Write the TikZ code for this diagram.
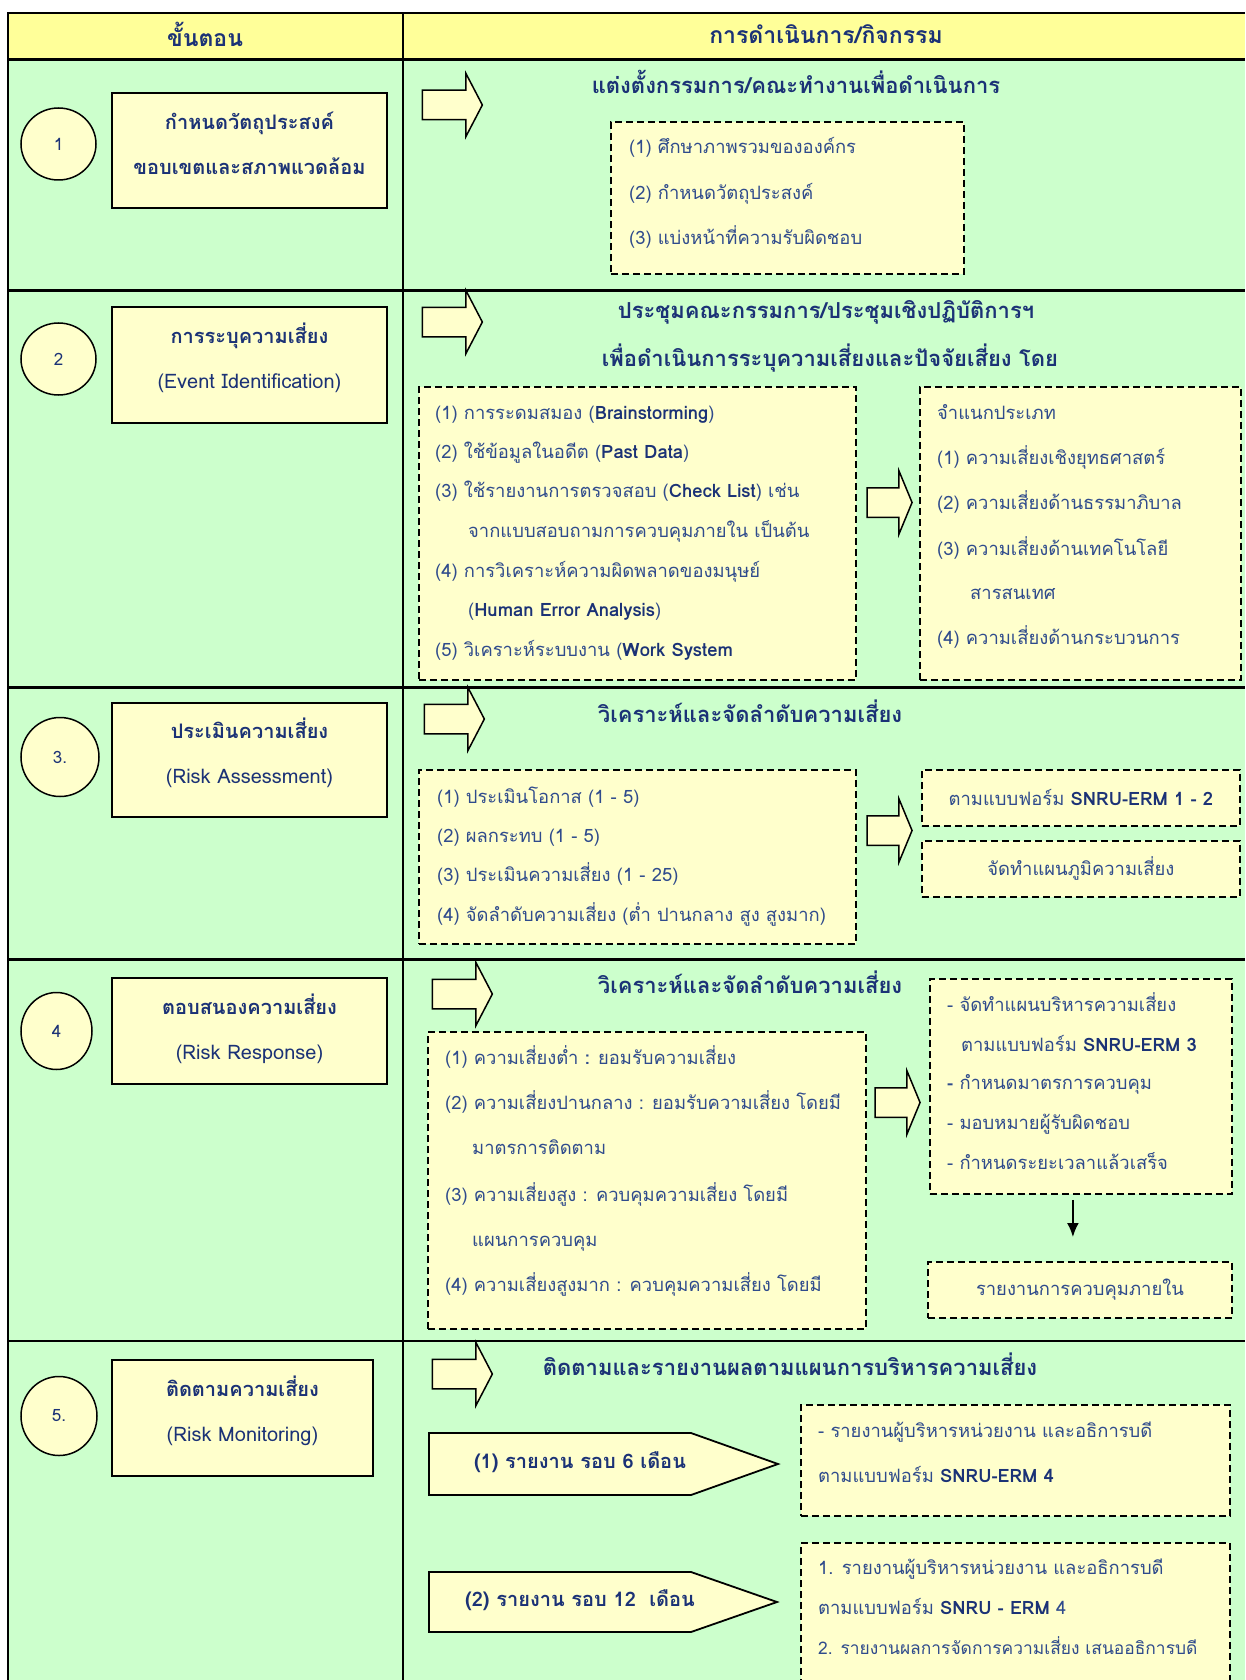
\documentclass[tikz,border=0pt]{standalone}
\usepackage{fontspec}
\newfontfamily\thaifont[Script=Thai]{Loma}
\usetikzlibrary{shapes.arrows,shapes.geometric,arrows.meta}
\definecolor{hdryellow}{RGB}{255,255,153}
\definecolor{rowgreen}{RGB}{204,255,204}
\definecolor{boxyellow}{RGB}{255,255,204}
\definecolor{txtblue}{RGB}{47,75,140}
\definecolor{navy}{RGB}{27,50,118}
\newcommand\en[1]{{\bfseries\color{navy}#1}}
\tikzset{
  tbl/.style={line width=1.2pt},
  rowsep/.style={line width=3pt},
  stepbox/.style={draw, line width=2pt, fill=boxyellow},
  steptext/.style={align=center, font=\thaifont\bfseries\fontsize{20}{45}\selectfont, text=navy},
  stepno/.style={draw, ellipse, line width=1.5pt, fill=boxyellow,
    font=\thaifont\fontsize{17}{20}\selectfont, text=navy},
  dbox/.style={draw, dashed, dash pattern=on 7pt off 4pt, line width=1.8pt,
    fill=boxyellow, anchor=north west},
  bigarrow/.style={single arrow, draw, line width=1.5pt, fill=boxyellow,
    inner xsep=0pt, inner ysep=14pt, minimum height=60pt, minimum width=62pt,
    single arrow head extend=17pt, single arrow tip angle=125},
  midarrow/.style={bigarrow, minimum height=45pt, single arrow tip angle=135},
  tagbox/.style={draw, line width=1.8pt, fill=boxyellow},
  tagtext/.style={text=navy, font=\thaifont\bfseries\fontsize{20}{24}\selectfont},
  item/.style={anchor=west, text height=14pt, text depth=5pt},
  head/.style={font=\thaifont\bfseries\fontsize{22}{26}\selectfont, text=navy},
  colhead/.style={font=\thaifont\bfseries\fontsize{23}{28}\selectfont, text=navy},
}
\begin{document}
\begin{tikzpicture}[x=1pt,y=-1pt,
  every node/.style={font=\thaifont\fontsize{18.4}{23}\selectfont, text=txtblue, inner sep=0pt}]
\useasboundingbox (0,0) rectangle (1245,1680);
\fill[white] (0,0) rectangle (1245,1680);
% table
\fill[rowgreen] (8,13) rectangle (1245,1680);
\fill[hdryellow] (8,13) rectangle (1245,60);
\draw[tbl] (1245,13) -- (8,13) -- (8,1680);
\draw[tbl] (403,13) -- (403,1680);
\draw[rowsep] (8,60) -- (1245,60)
              (8,290) -- (1245,290)
              (8,687) -- (1245,687)
              (8,959) -- (1245,959);
\draw[line width=2pt] (8,1341) -- (1245,1341);
\node[colhead] (hstep) at (205,34) {ขั้นตอน};
\node[colhead] (hact) at (826,34) {การดำเนินการ/กิจกรรม};

% row 1
\node[stepno, minimum width=75pt, minimum height=72pt] (n1) at (58.5,144) {1};
\node[stepbox, minimum width=275pt, minimum height=115pt] (s1) at (249.5,150.5) {};
\node[steptext] (s1t) at ([yshift=7pt]s1.center) {กำหนดวัตถุประสงค์\\ขอบเขตและสภาพแวดล้อม};
\node[bigarrow] (a1) at (448.5,105) {};
\node[head] (t1) at (796,82) {แต่งตั้งกรรมการ/คณะทำงานเพื่อดำเนินการ};
\node[dbox, minimum width=353pt, minimum height=152pt] (d1) at (610,121) {};
\node[item] (i1a) at (629,149) {(1) ศึกษาภาพรวมขององค์กร};
\node[item] (i1b) at (629,195) {(2) กำหนดวัตถุประสงค์};
\node[item] (i1c) at (629,240) {(3) แบ่งหน้าที่ความรับผิดชอบ};

% row 2
\node[stepno, minimum width=75pt, minimum height=72pt] (n2) at (58.5,359) {2};
\node[stepbox, minimum width=275pt, minimum height=116pt] (s2) at (249.5,365) {};
\node[steptext] (s2t) at ([yshift=7pt]s2.center) {การระบุความเสี่ยง\\{\mdseries(Event Identification)}};
\node[bigarrow] (a2) at (448.5,322) {};
\node[head] (t2a) at (826,312) {ประชุมคณะกรรมการ/ประชุมเชิงปฏิบัติการฯ};
\node[head] (t2b) at (830,358) {เพื่อดำเนินการระบุความเสี่ยงและปัจจัยเสี่ยง โดย};
\node[dbox, minimum width=437pt, minimum height=293pt] (d2a) at (418,386) {};
\node[dbox, minimum width=321pt, minimum height=293pt] (d2b) at (919,386) {};
\node[midarrow] (m2) at (886.5,502.5) {};
\node[item] (i2a) at (435,415) {(1) การระดมสมอง (\en{Brainstorming})};
\node[item] (i2b) at (435,454) {(2) ใช้ข้อมูลในอดีต (\en{Past Data})};
\node[item] (i2c) at (435,493) {(3) ใช้รายงานการตรวจสอบ (\en{Check List}) เช่น};
\node[item] (i2d) at (468,533) {จากแบบสอบถามการควบคุมภายใน เป็นต้น};
\node[item] (i2e) at (435,573) {(4) การวิเคราะห์ความผิดพลาดของมนุษย์};
\node[item] (i2f) at (468,612) {(\en{Human Error Analysis})};
\node[item] (i2g) at (435,652) {(5) วิเคราะห์ระบบงาน (\en{Work System}};
\node[item] (k2a) at (937,415) {จำแนกประเภท};
\node[item] (k2b) at (937,460) {(1) ความเสี่ยงเชิงยุทธศาสตร์};
\node[item] (k2c) at (937,505) {(2) ความเสี่ยงด้านธรรมาภิบาล};
\node[item] (k2d) at (937,551) {(3) ความเสี่ยงด้านเทคโนโลยี};
\node[item] (k2e) at (970,595) {สารสนเทศ};
\node[item] (k2f) at (937,640) {(4) ความเสี่ยงด้านกระบวนการ};

% row 3
\node[stepno, minimum width=78pt, minimum height=79pt] (n3) at (60,757) {3.};
\node[stepbox, minimum width=275pt, minimum height=114pt] (s3) at (249.5,760) {};
\node[steptext] (s3t) at ([yshift=7pt]s3.center) {ประเมินความเสี่ยง\\{\mdseries(Risk Assessment)}};
\node[bigarrow] (a3) at (450.5,719) {};
\node[head] (t3) at (750,711) {วิเคราะห์และจัดลำดับความเสี่ยง};
\node[dbox, minimum width=437pt, minimum height=174pt] (d3a) at (418,769) {};
\node[midarrow] (m3) at (886.5,830.5) {};
\node[item] (i3a) at (437,799) {(1) ประเมินโอกาส (1 - 5)};
\node[item] (i3b) at (437,838) {(2) ผลกระทบ (1 - 5)};
\node[item] (i3c) at (437,877) {(3) ประเมินความเสี่ยง (1 - 25)};
\node[item] (i3d) at (437,917) {(4) จัดลำดับความเสี่ยง (ต่ำ ปานกลาง สูง สูงมาก)};
\node[dbox, minimum width=318pt, minimum height=56pt] (d3b) at (921,769) {};
\node (k3a) at (d3b.center) {ตามแบบฟอร์ม \en{SNRU-ERM 1 - 2}};
\node[dbox, minimum width=318pt, minimum height=56pt] (d3c) at (921,840) {};
\node (k3b) at (d3c.center) {จัดทำแผนภูมิความเสี่ยง};

% row 4
\node[stepno, minimum width=71pt, minimum height=77pt] (n4) at (56.5,1031) {4};
\node[stepbox, minimum width=275pt, minimum height=106pt] (s4) at (249.5,1031) {};
\node[steptext] (s4t) at ([yshift=2pt]s4.center) {ตอบสนองความเสี่ยง\\{\mdseries(Risk Response)}};
\node[bigarrow] (a4) at (458.5,994) {};
\node[head] (t4) at (750,982) {วิเคราะห์และจัดลำดับความเสี่ยง};
\node[dbox, minimum width=438pt, minimum height=297pt] (d4a) at (427,1031) {};
\node[midarrow] (m4) at (894.5,1102.5) {};
\node[item] (i4a) at (445,1060) {(1) ความเสี่ยงต่ำ \textbf{:} ยอมรับความเสี่ยง};
\node[item] (i4b) at (445,1105) {(2) ความเสี่ยงปานกลาง : ยอมรับความเสี่ยง โดยมี};
\node[item] (i4c) at (472,1150) {มาตรการติดตาม};
\node[item] (i4d) at (445,1197) {(3) ความเสี่ยงสูง : ควบคุมความเสี่ยง โดยมี};
\node[item] (i4e) at (472,1242) {แผนการควบคุม};
\node[item] (i4f) at (445,1287) {(4) ความเสี่ยงสูงมาก : ควบคุมความเสี่ยง โดยมี};
\node[dbox, minimum width=302pt, minimum height=215pt] (d4b) at (929,978) {};
\node[item] (k4a) at (947,1007) {- จัดทำแผนบริหารความเสี่ยง};
\node[item] (k4b) at (961,1047) {ตามแบบฟอร์ม \en{SNRU-ERM 3}};
\node[item] (k4c) at (947,1085) {\textbf{-} กำหนดมาตรการควบคุม};
\node[item] (k4d) at (947,1125) {- มอบหมายผู้รับผิดชอบ};
\node[item] (k4e) at (947,1165) {- กำหนดระยะเวลาแล้วเสร็จ};
\node[dbox, minimum width=304pt, minimum height=56pt] (d4c) at (927,1261) {};
\node (k4f) at (d4c.center) {รายงานการควบคุมภายใน};
\draw[line width=2pt, -{Latex[length=14pt,width=12pt]}, shorten <=5pt, shorten >=24pt]
  ([xshift=-8pt]d4b.south) -- ([xshift=-7pt]d4c.north);

% row 5
\node[stepno, minimum width=76pt, minimum height=79pt] (n5) at (59,1416) {5.};
\node[stepbox, minimum width=261pt, minimum height=116pt] (s5) at (242.5,1418) {};
\node[steptext] (s5t) at ([yshift=7pt]s5.center) {ติดตามความเสี่ยง\\{\mdseries(Risk Monitoring)}};
\node[bigarrow] (a5) at (458.5,1374) {};
\node[head] (t5) at (790,1364) {ติดตามและรายงานผลตามแผนการบริหารความเสี่ยง};
\draw[tagbox] (429,1433) -- (691,1433) -- (778,1464) -- (691,1495) -- (429,1495) -- cycle;
\node[tagtext] (r6) at (580,1462) {(1) รายงาน รอบ 6 เดือน};
\draw[tagbox] (429,1572) -- (691,1572) -- (777,1602) -- (691,1632) -- (429,1632) -- cycle;
\node[tagtext] (r12) at (580,1600) {(2) รายงาน รอบ 12~~เดือน};
\node[dbox, minimum width=429pt, minimum height=111pt] (d5a) at (800,1404) {};
\node[item] (k5a) at (818,1433) {- รายงานผู้บริหารหน่วยงาน และอธิการบดี};
\node[item] (k5b) at (818,1478) {ตามแบบฟอร์ม \en{SNRU-ERM 4}};
\node[dbox, minimum width=429pt, minimum height=150pt] (d5b) at (800,1542) {};
\node[item] (k5c) at (818,1570) {1. รายงานผู้บริหารหน่วยงาน และอธิการบดี};
\node[item] (k5d) at (818,1610) {ตามแบบฟอร์ม \en{SNRU - ERM} 4};
\node[item, font=\thaifont\fontsize{17.4}{22}\selectfont] (k5e) at (818,1650)
  {2. รายงานผลการจัดการความเสี่ยง เสนออธิการบดี};
\end{tikzpicture}
\end{document}
